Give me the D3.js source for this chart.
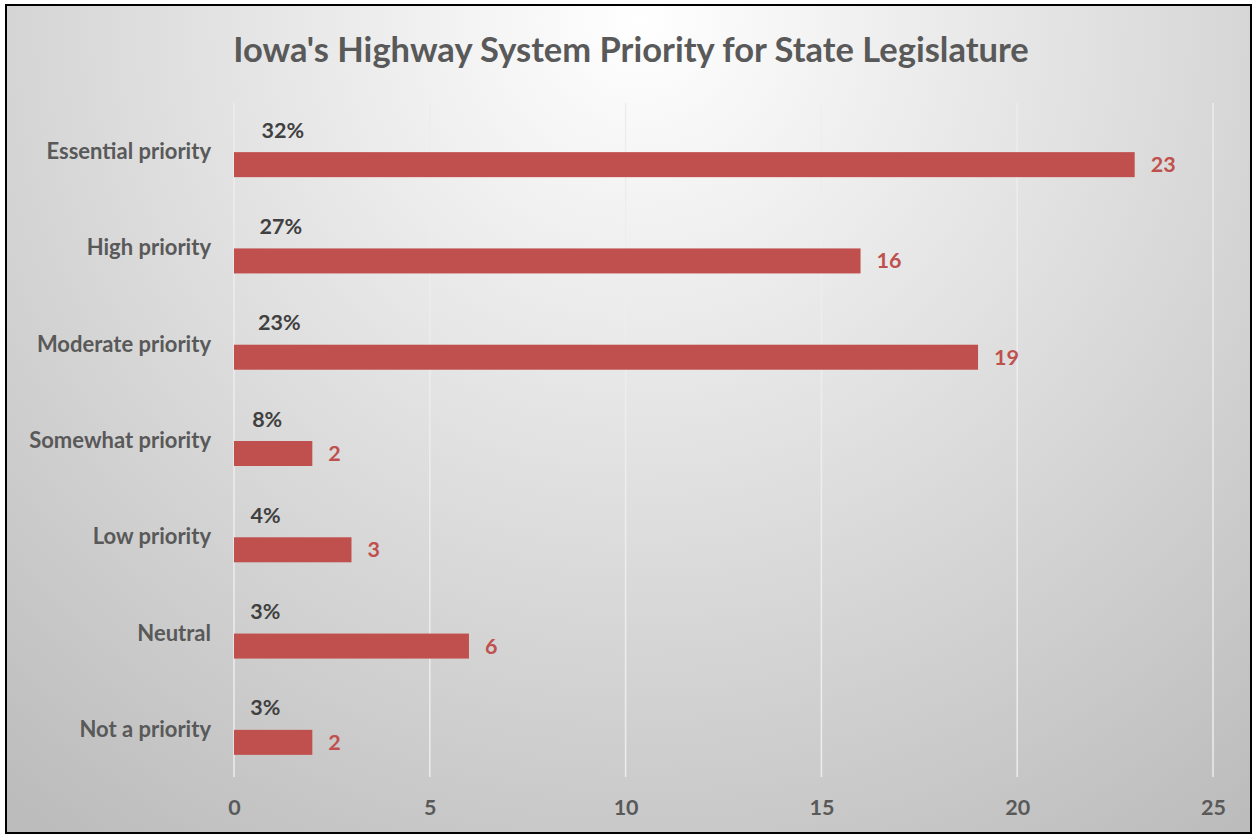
<!DOCTYPE html>
<html>
<head>
<meta charset="utf-8">
<script src="https://cdn.jsdelivr.net/npm/d3@7"></script>
<style>
  html, body { margin: 0; padding: 0; background: #fff; }
  svg { display: block; }
  text { font-family: Lato, "Open Sans", sans-serif; font-weight: bold; }
</style>
</head>
<body>
<svg id="chart" width="1253" height="835"></svg>
<script>
const title = "Iowa's Highway System Priority for State Legislature";
const categories = ["Essential priority", "High priority", "Moderate priority", "Somewhat priority", "Low priority", "Neutral", "Not a priority"];
const counts = [23, 16, 19, 2, 3, 6, 2];
const percents = [32, 27, 23, 8, 4, 3, 3];
const xTicks = [0, 5, 10, 15, 20, 25];

const svg = d3.select("#chart");
const defs = svg.append("defs");
const grad = defs.append("radialGradient").attr("id", "bg")
  .attr("gradientUnits", "userSpaceOnUse")
  .attr("cx", 640).attr("cy", 20).attr("r", 1000).attr("fx", 640).attr("fy", 20);
grad.append("stop").attr("offset", "0").attr("stop-color", "#ffffff");
grad.append("stop").attr("offset", "0.45").attr("stop-color", "#e1e1e1");
grad.append("stop").attr("offset", "1").attr("stop-color", "#bcbcbc");

svg.append("rect").attr("x", 6).attr("y", 5).attr("width", 1245).attr("height", 828)
  .attr("fill", "url(#bg)").attr("stroke", "#000").attr("stroke-width", 2);

const x = d3.scaleLinear().domain([0, 25]).range([234, 1213]);
const y = d3.scaleBand().domain(categories).range([103, 777]);
const labelSize = "21.5px";

// gridlines
svg.append("g").selectAll("line").data(xTicks).join("line")
  .attr("x1", d => x(d)).attr("x2", d => x(d))
  .attr("y1", 103).attr("y2", 777)
  .attr("stroke", "#ededed").attr("stroke-width", 1.5);

// x axis labels
const xAxis = d3.axisBottom(x).tickValues(xTicks).tickSize(0).tickPadding(0);
const gx = svg.append("g").attr("transform", "translate(0,815)").call(xAxis);
gx.select(".domain").remove();
gx.selectAll("text").attr("fill", "#595959").style("font-size", labelSize)
  .style("font-family", "Lato, sans-serif").style("font-weight", "bold")
  .attr("dy", "0").attr("y", 0);

// y axis labels
const yAxis = d3.axisLeft(y).tickSize(0).tickPadding(0);
const gy = svg.append("g").attr("transform", "translate(211,1)").call(yAxis);
gy.select(".domain").remove();
gy.selectAll("text").attr("fill", "#595959").style("font-size", "22px")
  .style("font-family", "Lato, sans-serif").style("font-weight", "bold");

// bars
const barOffset = 1, barH = 25;
svg.append("g").selectAll("rect").data(counts).join("rect")
  .attr("x", x(0))
  .attr("y", (d, i) => y(categories[i]) + y.bandwidth() / 2 + barOffset)
  .attr("width", d => x(d) - x(0))
  .attr("height", barH)
  .attr("fill", "#C0504D");

// value labels
svg.append("g").selectAll("text").data(counts).join("text")
  .attr("x", d => x(d) + 16)
  .attr("y", (d, i) => y(categories[i]) + y.bandwidth() / 2 + barOffset + barH / 2)
  .attr("dy", "0.35em")
  .attr("fill", "#C0504D").style("font-size", labelSize)
  .text(d => d);

// percent labels (second series, values as fractions)
svg.append("g").selectAll("text").data(percents).join("text")
  .attr("x", d => x(d / 100) + 15)
  .attr("y", (d, i) => y(categories[i]) + y.bandwidth() / 2 - 21)
  .attr("dy", "0.35em")
  .attr("fill", "#404040").style("font-size", labelSize)
  .text(d => d + "%");

// title
svg.append("text").attr("x", 631).attr("y", 50).attr("text-anchor", "middle")
  .attr("dy", "0.35em")
  .attr("fill", "#595959").style("font-size", "34.5px")
  .text(title);
</script>
</body>
</html>
